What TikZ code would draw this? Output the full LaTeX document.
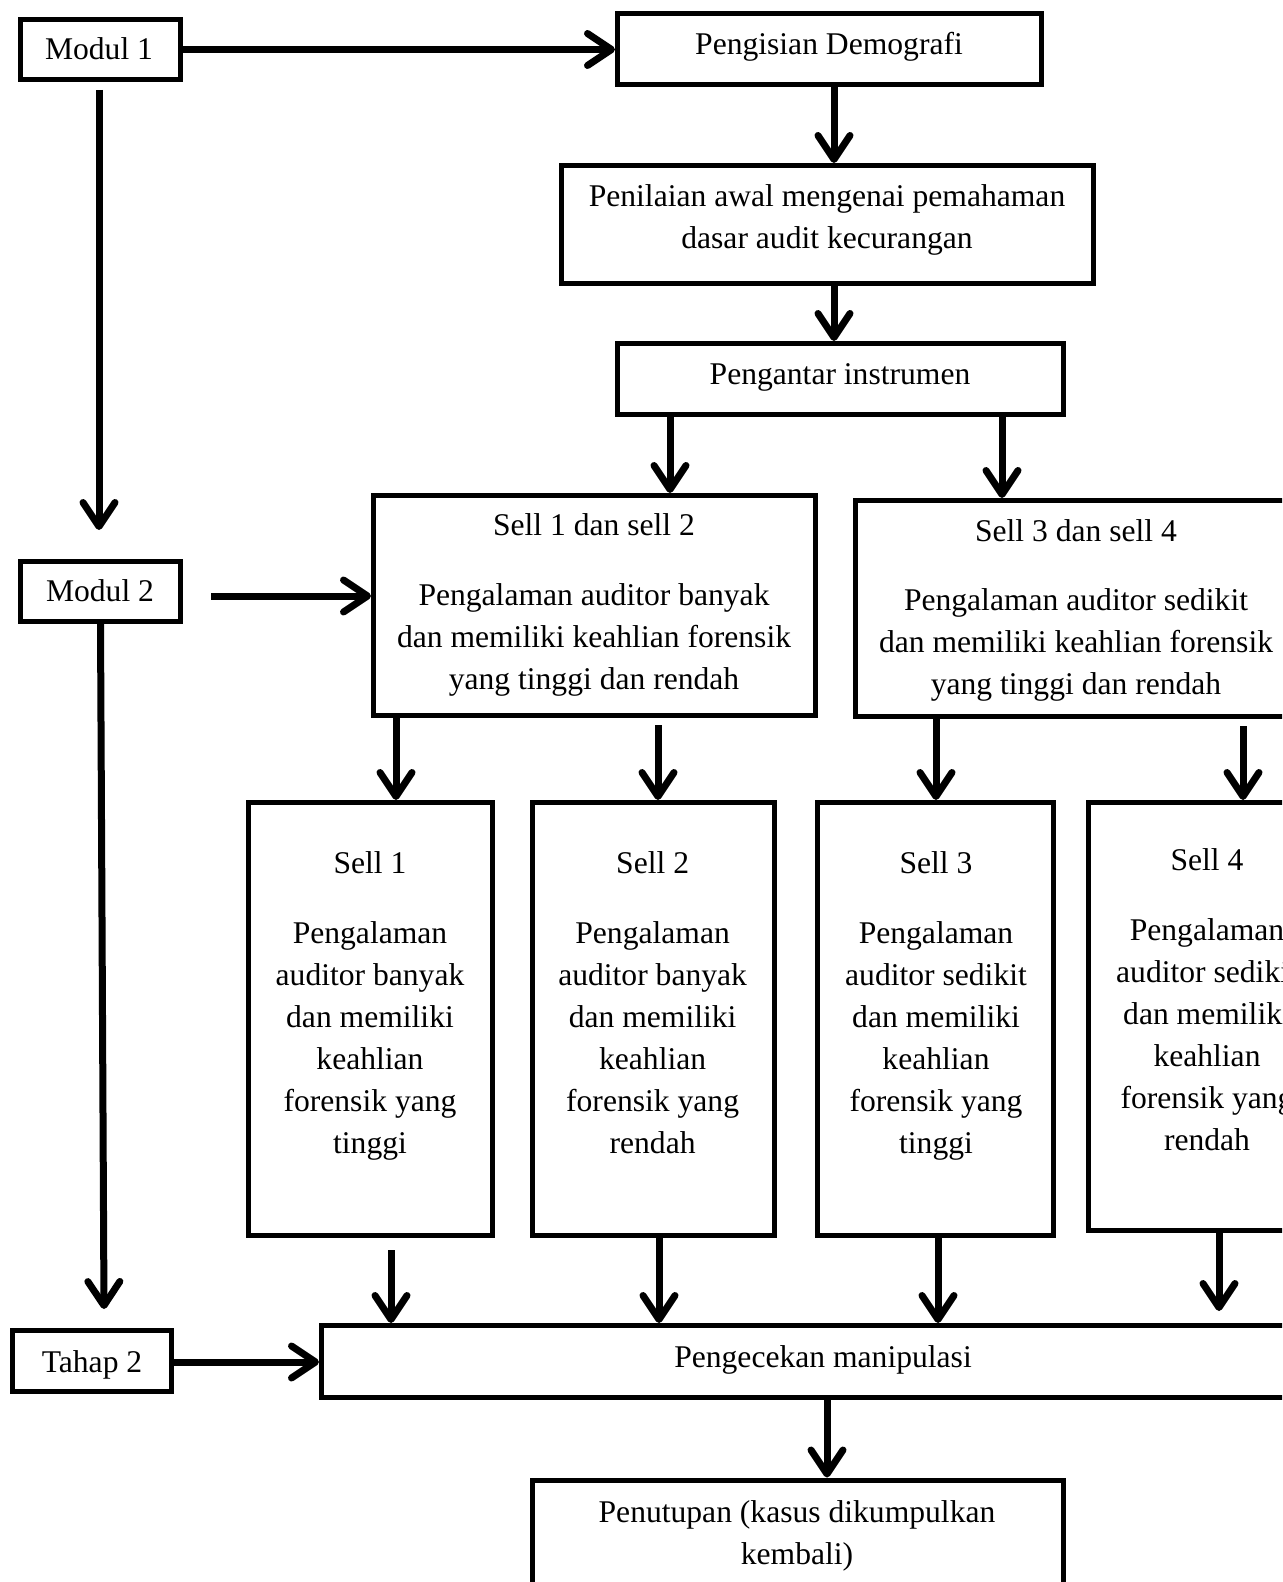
\documentclass[tikz,border=0pt]{standalone}
\usepackage{fontspec}
\setmainfont{Liberation Serif}
\usetikzlibrary{arrows.meta}
\begin{document}
\begin{tikzpicture}[x=0.5pt,y=-0.5pt,
  box/.style={draw, line width=2.5pt, inner sep=0pt},
  sz/.style 2 args={minimum width=#1*0.5pt, minimum height=#2*0.5pt},
  txt/.style={align=center, inner sep=0pt, font=\fontsize{15.8}{21}\selectfont},
  arr/.style={line width=3.5pt, -{Straight Barb[length=12pt,width=16pt,line cap=round,line join=round]}},
]
\clip (0,0) rectangle (1282,1582);
\fill[white] (0,0) rectangle (1282,1582);
% boxes
\node[box, sz={160}{60}] (m1) at (100.5,49.5) {};
\node[box, sz={424}{71}] (dem) at (829.5,49.5) {};
\node[box, sz={532}{118}] (pen) at (827.5,224.5) {};
\node[box, sz={446}{71}] (ins) at (840.5,379) {};
\node[box, sz={442}{220}] (s12) at (594.5,605.5) {};
\node[box, sz={441}{216}] (s34) at (1076,608.5) {};
\node[box, sz={244}{433}] (c1) at (370.5,1019) {};
\node[box, sz={242}{433}] (c2) at (653.5,1019) {};
\node[box, sz={236}{433}] (c3) at (935.5,1019) {};
\node[box, sz={237}{428}] (c4) at (1207,1016.5) {};
\node[box, sz={160}{60}] (m2) at (100.5,591.5) {};
\node[box, sz={159}{61}] (t2) at (92,1361) {};
\node[box, sz={1003}{72}] (cek) at (823,1361.5) {};
\node[box, sz={531}{160}] (tut) at (798,1560) {};
% texts
\node[txt] (m1t) at (99,51) {\strut Modul 1};
\node[txt] (m2t) at (100,593) {\strut Modul 2};
\node[txt] (t2t) at (92,1364) {\strut Tahap 2};
\node[txt] (demt) at (829,46) {\strut Pengisian Demografi};
\node[txt] (pent) at (827,219.5) {\strut Penilaian awal mengenai pemahaman\\dasar audit kecurangan\strut};
\node[txt] (inst) at (840,376) {\strut Pengantar instrumen};
\node[txt] (s12a) at (594,527.5) {\strut Sell 1 dan sell 2};
\node[txt] (s12b) at (594,639.5) {\strut Pengalaman auditor banyak\\dan memiliki keahlian forensik\\yang tinggi dan rendah\strut};
\node[txt] (s34a) at (1076,532.6) {\strut Sell 3 dan sell 4};
\node[txt] (s34b) at (1076,644) {\strut Pengalaman auditor sedikit\\dan memiliki keahlian forensik\\yang tinggi dan rendah\strut};
\node[txt] (c1a) at (370,865.5) {\strut Sell 1};
\node[txt] (c1b) at (370,1040.5) {\strut Pengalaman\\auditor banyak\\dan memiliki\\keahlian\\forensik yang\\tinggi\strut};
\node[txt] (c2a) at (652.6,865.5) {\strut Sell 2};
\node[txt] (c2b) at (652.6,1040.5) {\strut Pengalaman\\auditor banyak\\dan memiliki\\keahlian\\forensik yang\\rendah\strut};
\node[txt] (c3a) at (936,865.5) {\strut Sell 3};
\node[txt] (c3b) at (936,1040.5) {\strut Pengalaman\\auditor sedikit\\dan memiliki\\keahlian\\forensik yang\\tinggi\strut};
\node[txt] (c4a) at (1207,862.5) {\strut Sell 4};
\node[txt] (c4b) at (1207,1037) {\strut Pengalaman\\auditor sedikit\\dan memiliki\\keahlian\\forensik yang\\rendah\strut};
\node[txt] (cekt) at (823,1359) {\strut Pengecekan manipulasi};
\node[txt] (tutt) at (797,1535) {\strut Penutupan (kasus dikumpulkan\\kembali)\strut};
% connectors
\coordinate (m1end) at (99,530);
\coordinate (m2end) at (104,1309);
\draw[arr] (m1.east) -- (dem.west);
\draw[arr, shorten <=4pt] (m1.south -| m1end) -- (m1end);
\draw[arr] (dem.south -| 834,0) -- (pen.north -| 834,0);
\draw[arr] (pen.south -| 834,0) -- (ins.north -| 834,0);
\draw[arr] (ins.south -| 670,0) -- (s12.north -| 670,0);
\draw[arr] (ins.south -| 1002,0) -- (s34.north -| 1002,0);
\draw[arr, shorten <=14pt] (m2.east |- 0,596) -- (s12.west |- 0,596);
\draw[arr] (m2.south) -- (m2end);
\draw[arr] (s12.south -| 396,0) -- (c1.north -| 396,0);
\draw[arr, shorten <=3.5pt] (s12.south -| 658,0) -- (c2.north -| 658,0);
\draw[arr] (s34.south -| 936,0) -- (c3.north -| 936,0);
\draw[arr, shorten <=3.5pt] (s34.south -| 1243,0) -- (c4.north -| 1243,0);
\draw[arr, shorten <=6pt] (c1.south -| 391,0) -- (cek.north -| 391,0);
\draw[arr] (c2.south -| 659,0) -- (cek.north -| 659,0);
\draw[arr] (c3.south -| 938,0) -- (cek.north -| 938,0);
\draw[arr, shorten >=6pt] (c4.south -| 1219,0) -- (cek.north -| 1219,0);
\draw[arr] (t2.east |- 0,1362) -- (cek.west |- 0,1362);
\draw[arr] (cek.south -| 827,0) -- (tut.north -| 827,0);
\end{tikzpicture}
\end{document}
